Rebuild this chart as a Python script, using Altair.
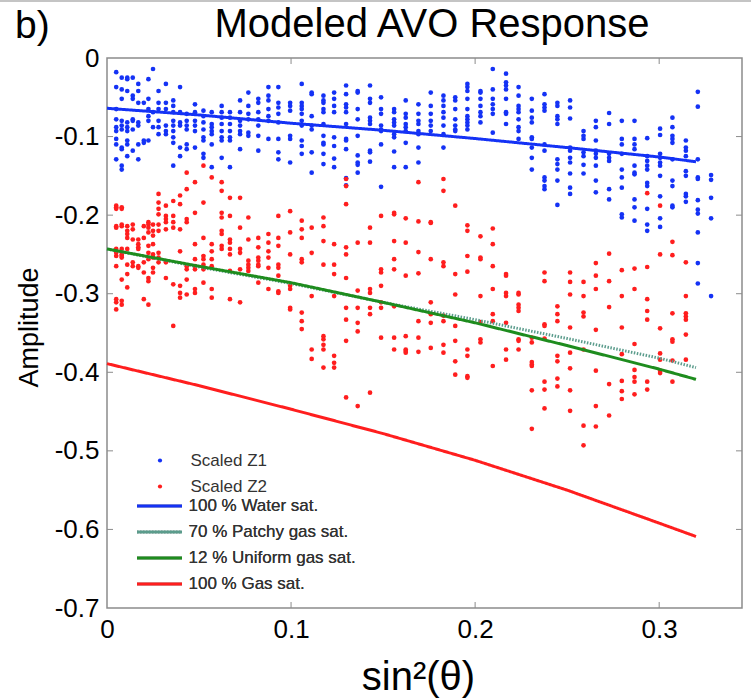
import altair as alt
import pandas as pd

FONT = "Liberation Sans"
BLUE = "#1432f5"
RED = "#ff1e1e"
GREEN = "#1e8c1e"
PATCHY = "#5b9c8c"
GRAY = "#8c8c8c"

# ---------------- data ----------------
blue_x = [0.005, 0.008, 0.011, 0.014, 0.017, 0.020, 0.0225, 0.025, 0.028, 0.032,
          0.036, 0.0397, 0.0433, 0.0478, 0.0524, 0.0569, 0.0623, 0.0668, 0.0723, 0.0768,
          0.0822, 0.0877, 0.0931, 0.0995, 0.1058, 0.1112, 0.1176, 0.1234, 0.1299, 0.1362,
          0.1429, 0.1489, 0.1560, 0.1623, 0.1692, 0.1759, 0.1828, 0.1892, 0.1958, 0.2029,
          0.2096, 0.2168, 0.2236, 0.2308, 0.2377, 0.2447, 0.2516, 0.2589, 0.2656, 0.2728,
          0.2797, 0.2866, 0.2935, 0.3005, 0.3072, 0.3145, 0.3210, 0.3282]
blue_y = [
    [-0.018, -0.037, -0.065, -0.078, -0.088, -0.093, -0.103, -0.110, -0.129],
    [-0.025, -0.040, -0.052, -0.080, -0.086, -0.091, -0.114, -0.116, -0.142, -0.137],
    [-0.025, -0.027, -0.042, -0.082, -0.088, -0.093, -0.105, -0.110, -0.125],
    [-0.025, -0.048, -0.052, -0.078, -0.080, -0.091, -0.118],
    [-0.033, -0.042, -0.057, -0.082, -0.086, -0.110, -0.129],
    [-0.057, -0.105, -0.108],
    [-0.027, -0.052, -0.065, -0.074, -0.080, -0.105],
    [-0.014, -0.069, -0.088],
    [-0.042, -0.057, -0.065, -0.080, -0.088, -0.097],
    [-0.033, -0.057, -0.065, -0.086, -0.093, -0.097],
    [-0.054, -0.061, -0.069, -0.080, -0.086, -0.093, -0.101, -0.108, -0.137],
    [-0.037, -0.069, -0.082, -0.086, -0.114, -0.125],
    [-0.071, -0.080, -0.086, -0.091, -0.110, -0.116],
    [-0.059, -0.069, -0.080, -0.086, -0.093, -0.114],
    [-0.067, -0.074, -0.082, -0.091, -0.101, -0.105, -0.122, -0.127],
    [-0.069, -0.084, -0.088, -0.093, -0.097, -0.110, -0.139],
    [-0.061, -0.069, -0.076, -0.084, -0.093, -0.101, -0.105, -0.127],
    [-0.069, -0.076, -0.084, -0.093, -0.101, -0.105, -0.139],
    [-0.054, -0.069, -0.080, -0.086, -0.093, -0.097, -0.116],
    [-0.044, -0.061, -0.071, -0.078, -0.095, -0.099],
    [-0.052, -0.057, -0.069, -0.078, -0.086, -0.099, -0.118],
    [-0.037, -0.048, -0.054, -0.065, -0.074, -0.080, -0.103],
    [-0.037, -0.057, -0.063, -0.071, -0.082, -0.103, -0.120, -0.129],
    [-0.057, -0.061, -0.067, -0.099, -0.103, -0.133],
    [-0.033, -0.057, -0.061, -0.065, -0.071, -0.080, -0.086, -0.105, -0.112, -0.122],
    [-0.044, -0.046, -0.074, -0.086, -0.091, -0.120, -0.146],
    [-0.048, -0.054, -0.057, -0.065, -0.069, -0.084, -0.099, -0.108, -0.110, -0.122, -0.135],
    [-0.044, -0.052, -0.061, -0.069, -0.101, -0.112, -0.128, -0.139],
    [-0.035, -0.046, -0.059, -0.063, -0.069, -0.084, -0.103, -0.105, -0.116, -0.153, -0.162],
    [-0.042, -0.044, -0.065, -0.078, -0.099, -0.124, -0.133, -0.136, -0.146],
    [-0.035, -0.052, -0.057, -0.076, -0.080, -0.084, -0.118, -0.120, -0.132],
    [-0.050, -0.065, -0.071, -0.086, -0.091, -0.093, -0.110, -0.164],
    [-0.065, -0.069, -0.078, -0.082, -0.086, -0.097, -0.101, -0.119, -0.139],
    [-0.054, -0.071, -0.076, -0.084, -0.088, -0.093, -0.108, -0.139],
    [-0.059, -0.071, -0.080, -0.084, -0.093, -0.097, -0.114, -0.133],
    [-0.044, -0.061, -0.071, -0.080, -0.086, -0.093],
    [-0.048, -0.054, -0.061, -0.069, -0.076, -0.086, -0.097, -0.114],
    [-0.050, -0.054, -0.065, -0.078, -0.086, -0.091, -0.093],
    [-0.033, -0.037, -0.042, -0.052, -0.065, -0.074, -0.078, -0.082, -0.086, -0.091],
    [-0.042, -0.044, -0.052, -0.061, -0.069, -0.074, -0.082],
    [-0.014, -0.040, -0.052, -0.059, -0.065, -0.071, -0.095],
    [-0.020, -0.031, -0.035, -0.040, -0.052, -0.069, -0.071, -0.084],
    [-0.037, -0.048, -0.061, -0.065, -0.069, -0.078, -0.088, -0.093, -0.103],
    [-0.052, -0.067, -0.076, -0.082, -0.101, -0.103, -0.114, -0.127, -0.142],
    [-0.046, -0.059, -0.063, -0.067, -0.110, -0.118, -0.152, -0.156, -0.163, -0.167],
    [-0.057, -0.061, -0.074, -0.078, -0.084, -0.129, -0.135, -0.142, -0.156, -0.187],
    [-0.054, -0.063, -0.077, -0.114, -0.118, -0.127, -0.133, -0.147, -0.165, -0.173],
    [-0.093, -0.099, -0.103, -0.120, -0.125, -0.136, -0.147],
    [-0.080, -0.088, -0.105, -0.118, -0.122, -0.127, -0.137, -0.156, -0.171],
    [-0.070, -0.084, -0.122, -0.127, -0.131, -0.167, -0.180],
    [-0.080, -0.103, -0.110, -0.122, -0.142, -0.152, -0.165, -0.199, -0.203],
    [-0.080, -0.103, -0.110, -0.116, -0.137, -0.146, -0.148, -0.180, -0.190, -0.207],
    [-0.102, -0.125, -0.131, -0.137, -0.142, -0.159, -0.163, -0.192, -0.212, -0.220],
    [-0.090, -0.098, -0.122, -0.127, -0.133, -0.137, -0.150, -0.176, -0.204, -0.215],
    [-0.076, -0.088, -0.099, -0.103, -0.108, -0.129, -0.156, -0.163, -0.188, -0.190],
    [-0.105, -0.114, -0.118, -0.125, -0.144, -0.150, -0.173, -0.176, -0.183],
    [-0.043, -0.062, -0.129, -0.152, -0.154, -0.181, -0.193, -0.198, -0.222, -0.261, -0.287],
    [-0.149, -0.155, -0.178, -0.204, -0.303],
]

red_x = [0.005, 0.008, 0.011, 0.014, 0.017, 0.020, 0.0225, 0.025, 0.028, 0.032,
         0.036, 0.0397, 0.0433, 0.0478, 0.0524, 0.0569, 0.0623, 0.0668, 0.0723, 0.0768,
         0.0822, 0.0877, 0.0931, 0.0995, 0.1058, 0.1112, 0.1176, 0.1234, 0.1299, 0.1362,
         0.1429, 0.1489, 0.1560, 0.1623, 0.1692, 0.1759, 0.1828, 0.1892, 0.1958, 0.2029,
         0.2096, 0.2168, 0.2236, 0.2308, 0.2377, 0.2447, 0.2516, 0.2589, 0.2656, 0.2728,
         0.2797, 0.2866, 0.2935, 0.3005, 0.3072, 0.3145]
red_y = [
    [-0.188, -0.190, -0.192, -0.214, -0.216, -0.243, -0.248, -0.252, -0.265, -0.307, -0.311, -0.320],
    [-0.190, -0.192, -0.212, -0.214, -0.243, -0.250, -0.252, -0.254, -0.282, -0.309, -0.314],
    [-0.214, -0.220, -0.224, -0.229, -0.243, -0.263, -0.275, -0.292],
    [-0.212, -0.218, -0.231, -0.260, -0.265],
    [-0.231, -0.237, -0.241, -0.243, -0.265, -0.267],
    [-0.214, -0.229, -0.260, -0.273, -0.307],
    [-0.209, -0.212, -0.216, -0.222, -0.239, -0.248, -0.256, -0.280, -0.284, -0.314],
    [-0.212, -0.220, -0.226, -0.237, -0.250, -0.254, -0.267, -0.273],
    [-0.173, -0.184, -0.192, -0.199, -0.212, -0.220, -0.248, -0.254, -0.260],
    [-0.188, -0.201, -0.205, -0.209, -0.218, -0.260, -0.280],
    [-0.182, -0.201, -0.209, -0.216, -0.288, -0.341],
    [-0.175, -0.186, -0.218, -0.246, -0.290, -0.299, -0.305],
    [-0.146, -0.167, -0.205, -0.209, -0.265, -0.269, -0.282, -0.301],
    [-0.158, -0.197, -0.237, -0.256, -0.265, -0.269, -0.294, -0.299],
    [-0.137, -0.184, -0.229, -0.252, -0.256, -0.263, -0.269, -0.286],
    [-0.152, -0.237, -0.246, -0.256, -0.265, -0.294, -0.305],
    [-0.158, -0.169, -0.197, -0.203, -0.220, -0.224, -0.239, -0.243],
    [-0.178, -0.201, -0.231, -0.235, -0.243, -0.250, -0.271, -0.307],
    [-0.178, -0.216, -0.243, -0.248, -0.269, -0.311],
    [-0.203, -0.231, -0.258, -0.263, -0.267, -0.271],
    [-0.229, -0.241, -0.254, -0.258, -0.263, -0.265, -0.286],
    [-0.224, -0.235, -0.246, -0.254, -0.267, -0.294],
    [-0.201, -0.229, -0.239, -0.263, -0.267, -0.277, -0.297, -0.299],
    [-0.195, -0.222, -0.250, -0.290, -0.294, -0.318, -0.320],
    [-0.207, -0.218, -0.229, -0.256, -0.260, -0.324, -0.335, -0.345],
    [-0.216, -0.248, -0.303, -0.371, -0.383],
    [-0.203, -0.214, -0.233, -0.263, -0.354, -0.358, -0.365, -0.371, -0.394],
    [-0.237, -0.263, -0.275, -0.303, -0.379, -0.388, -0.394],
    [-0.154, -0.163, -0.186, -0.241, -0.250, -0.280, -0.318, -0.333, -0.360, -0.432],
    [-0.235, -0.296, -0.318, -0.337, -0.348, -0.443],
    [-0.216, -0.235, -0.294, -0.299, -0.318, -0.326, -0.426],
    [-0.201, -0.269, -0.273, -0.290, -0.311, -0.318, -0.356],
    [-0.197, -0.199, -0.233, -0.256, -0.269, -0.316, -0.356, -0.371],
    [-0.204, -0.235, -0.277, -0.354, -0.371, -0.373, -0.375],
    [-0.158, -0.208, -0.247, -0.274, -0.335, -0.356, -0.374],
    [-0.209, -0.210, -0.256, -0.311, -0.326, -0.337, -0.369],
    [-0.154, -0.169, -0.260, -0.265, -0.328, -0.335, -0.365, -0.375],
    [-0.188, -0.275, -0.301, -0.341, -0.360, -0.386, -0.403],
    [-0.213, -0.220, -0.252, -0.272, -0.371, -0.379, -0.405, -0.407],
    [-0.227, -0.254, -0.256, -0.303, -0.336, -0.358, -0.362],
    [-0.217, -0.237, -0.265, -0.294, -0.326, -0.335, -0.392],
    [-0.275, -0.277, -0.299, -0.303, -0.337, -0.371, -0.384],
    [-0.299, -0.301, -0.314, -0.318, -0.322, -0.358, -0.360, -0.371],
    [-0.356, -0.362, -0.387, -0.390, -0.392, -0.423, -0.472],
    [-0.273, -0.284, -0.339, -0.341, -0.357, -0.412, -0.422, -0.446],
    [-0.316, -0.326, -0.335, -0.379, -0.386, -0.408, -0.418],
    [-0.273, -0.285, -0.301, -0.343, -0.375, -0.395, -0.423, -0.449],
    [-0.285, -0.303, -0.324, -0.329, -0.371, -0.468, -0.493],
    [-0.261, -0.277, -0.294, -0.346, -0.398, -0.443, -0.469],
    [-0.249, -0.284, -0.317, -0.415, -0.455],
    [-0.270, -0.303, -0.343, -0.377, -0.411, -0.424, -0.434],
    [-0.268, -0.294, -0.364, -0.397, -0.406, -0.412, -0.428],
    [-0.172, -0.266, -0.307, -0.322, -0.333, -0.412, -0.422],
    [-0.188, -0.250, -0.344, -0.376, -0.384, -0.398, -0.401],
    [-0.234, -0.251, -0.325, -0.358, -0.361, -0.385, -0.412],
    [-0.260, -0.303, -0.325, -0.329, -0.333, -0.352, -0.384],
]

point_series = ["Scaled Z1", "Scaled Z2"]
model_names = ["100 % Water sat.", "70 % Patchy gas sat.", "12 % Uniform gas sat.", "100 % Gas sat."]
line_x = [0.0, 0.05, 0.1, 0.15, 0.2, 0.25, 0.3, 0.32]
water = [-0.064, -0.0725, -0.083, -0.092, -0.1025, -0.114, -0.126, -0.132]
patchy = [-0.243, -0.266, -0.287, -0.311, -0.333, -0.357, -0.382, -0.394]
uniform = [-0.243, -0.265, -0.286, -0.311, -0.337, -0.366, -0.396, -0.409]
gas = [-0.389, -0.417, -0.447, -0.478, -0.512, -0.550, -0.592, -0.609]

x_ticks = [0, 0.1, 0.2, 0.3]
y_ticks = [0, -0.1, -0.2, -0.3, -0.4, -0.5, -0.6, -0.7]
title_text = "Modeled AVO Response"
panel_text = "b)"

# ---------------- tables ----------------
rows = []
for name, xs, ys in ((point_series[0], blue_x, blue_y), (point_series[1], red_x, red_y)):
    for xv, col in zip(xs, ys):
        for yv in col:
            rows.append({"x": xv, "y": yv, "series": name})
points_df = pd.DataFrame(rows)

lrows = []
for name, vals in zip(model_names, (water, patchy, uniform, gas)):
    for xv, yv in zip(line_x, vals):
        lrows.append({"x": xv, "y": yv, "model": name})
lines_df = pd.DataFrame(lrows)

xt_df = pd.DataFrame({"v": x_ticks[1:]})
yt_df = pd.DataFrame({"v": y_ticks[1:-1]})

# ---------------- scales / axes ----------------
W, H = 635, 550
xscale = alt.Scale(domain=[0, 0.345], nice=False, zero=False)
yscale = alt.Scale(domain=[-0.7, 0], nice=False, zero=False)
xaxis = alt.Axis(values=x_ticks, ticks=False, domain=False, grid=False,
                 labelExpr="toString(datum.value)", labelFont=FONT, labelFontSize=26,
                 labelColor="#000", labelPadding=8, labelFlush=False,
                 title="sin²(θ)", titleFont=FONT, titleFontSize=40, titleFontWeight="normal",
                 titleColor="#000", titleX=311, titleY=81, titleBaseline="alphabetic")
yaxis = alt.Axis(values=y_ticks, ticks=False, domain=False, grid=False,
                 labelExpr="toString(datum.value)", labelFont=FONT, labelFontSize=26,
                 labelColor="#000", labelPadding=8, labelFlush=False,
                 title="Amplitude", titleFont=FONT, titleFontSize=27, titleFontWeight="normal",
                 titleColor="#000", titleX=-78, titleY=269, titleAngle=-90,
                 titleAlign="center", titleBaseline="middle")


def X(field):
    return alt.X(field, type="quantitative", scale=xscale, axis=xaxis)


def Y(field):
    return alt.Y(field, type="quantitative", scale=yscale, axis=yaxis)


pt_legend = alt.Legend(title=None, orient="none", legendX=44.5, legendY=395,
                       symbolType="circle", symbolSize=18, symbolStrokeWidth=0,
                       clipHeight=15, rowPadding=8, labelOffset=22, padding=0,
                       labelFont=FONT, labelFontSize=17, labelColor="#333", labelLimit=400)
ln_legend = alt.Legend(title=None, orient="none", legendX=28.5, legendY=440.5,
                       symbolType="stroke", symbolSize=2025, symbolStrokeWidth=3,
                       clipHeight=15, rowPadding=8, labelOffset=5, padding=0,
                       labelFont=FONT, labelFontSize=17, labelColor="#333", labelLimit=400)

points = alt.Chart(points_df).mark_point(filled=True, size=22, opacity=1).encode(
    x=X("x"), y=Y("y"),
    color=alt.Color("series:N", scale=alt.Scale(domain=point_series, range=[BLUE, RED]),
                    legend=pt_legend),
)

lines = alt.Chart(lines_df).mark_line(strokeWidth=3).encode(
    x=X("x"), y=Y("y"),
    color=alt.Color("model:N", scale=alt.Scale(domain=model_names, range=[BLUE, PATCHY, GREEN, RED]),
                    legend=ln_legend),
    strokeDash=alt.StrokeDash("model:N",
                              scale=alt.Scale(domain=model_names, range=[[1, 0], [1.5, 1.5], [1, 0], [1, 0]]),
                              legend=ln_legend),
)

tick_top = alt.Chart(xt_df).mark_rule(color=GRAY, strokeWidth=1).encode(
    x=X("v"), y=alt.value(0), y2=alt.value(6))
tick_bottom = alt.Chart(xt_df).mark_rule(color=GRAY, strokeWidth=1).encode(
    x=X("v"), y=alt.value(H), y2=alt.value(H - 6))
tick_left = alt.Chart(yt_df).mark_rule(color=GRAY, strokeWidth=1).encode(
    y=Y("v"), x=alt.value(0), x2=alt.value(6))
tick_right = alt.Chart(yt_df).mark_rule(color=GRAY, strokeWidth=1).encode(
    y=Y("v"), x=alt.value(W), x2=alt.value(W - 6))

title_mark = alt.Chart(pd.DataFrame({"t": [title_text]})).mark_text(
    font=FONT, fontSize=40, align="center", baseline="alphabetic", color="#000").encode(
    text="t:N", x=alt.value(325), y=alt.value(-21))

panel_tag = alt.Chart(pd.DataFrame({"t": [panel_text]})).mark_text(
    font=FONT, fontSize=39, align="left", baseline="alphabetic", color="#000").encode(
    text="t:N", x=alt.value(-92), y=alt.value(-20))

top_border = alt.Chart(pd.DataFrame({"t": [0]})).mark_rule(color="#c4c4c4", strokeWidth=2).encode(
    x=alt.value(-107), x2=alt.value(W + 9), y=alt.value(-57))

chart = alt.layer(
    tick_top, tick_bottom, tick_left, tick_right, points, lines, title_mark, panel_tag, top_border
).resolve_scale(color="independent").properties(
    width=W, height=H,
    autosize=alt.AutoSizeParams(type="none"),
    padding={"left": 107, "top": 58, "right": 9, "bottom": 90},
    background="white",
).configure_view(stroke=GRAY, strokeWidth=1.5)

chart.save("out.html", embed_options={"renderer": "svg", "actions": False})
